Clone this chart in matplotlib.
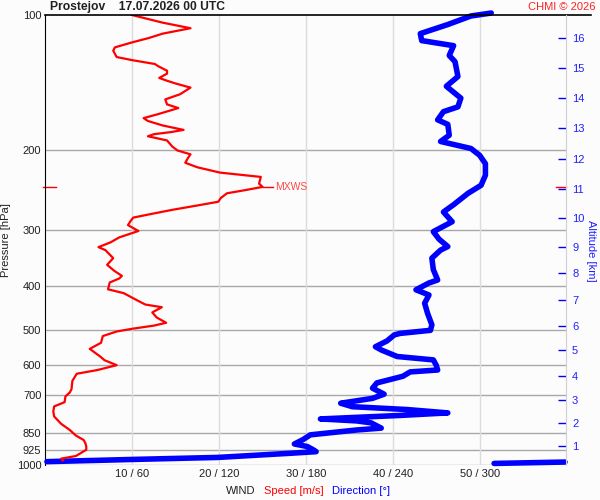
import numpy as np
import matplotlib
matplotlib.use("Agg")
import matplotlib.pyplot as plt

plt.rcParams['font.family'] = ['Liberation Sans', 'DejaVu Sans']

# wind speed profile [hPa], [m/s]
spd_p = [977, 968, 955, 925, 910, 895, 880, 860, 836, 810, 780, 760, 741, 725,
         704, 690, 678, 650, 627, 615, 600, 585, 574, 552, 535, 517, 505, 498,
         490, 483, 470, 458, 446, 440, 430, 415, 407, 400, 393, 385, 380, 370,
         359, 347, 333, 328, 320, 312, 302, 293, 287, 282, 276, 271, 265, 260,
         255, 249, 245, 241, 237, 229, 226, 224, 218, 213, 208, 204, 200, 196,
         190, 186, 184, 182, 180, 176, 172, 169.5, 166, 161, 158, 154, 150, 145,
         142, 140, 138, 135, 133, 130, 128.5, 126, 124, 120, 118, 115, 112.5,
         110, 107, 104, 100]
spd = [2.0, 1.8, 3.5, 4.7, 4.7, 4.6, 4.4, 3.5, 2.8, 1.8, 1.0, 0.9, 1.0, 2.2,
       2.3, 2.8, 3.0, 3.1, 3.6, 6.0, 8.2, 6.8, 6.3, 5.1, 6.4, 6.6, 8.2, 10.0,
       12.5, 13.9, 12.8, 12.3, 13.4, 11.5, 10.5, 9.0, 7.2, 7.3, 7.4, 8.5, 8.8, 7.9,
       7.1, 7.8, 6.9, 6.1, 7.5, 8.5, 10.7, 9.5, 9.8, 10.1, 12.5, 14.6, 17.5, 19.9,
       20.2, 20.9, 23.0, 25.0, 24.6, 24.8, 22.0, 20.1, 17.5, 16.1, 16.4, 16.7, 15.2, 14.6,
       14.0, 11.8, 12.5, 14.5, 15.9, 13.5, 11.8, 11.3, 13.0, 15.3, 14.0, 13.8, 15.5, 16.7,
       15.0, 14.0, 13.1, 14.0, 14.0, 13.0, 12.6, 10.0, 8.2, 7.8, 8.0, 10.0, 11.9,
       13.5, 16.7, 13.5, 9.95]

# wind direction profile [hPa], [deg]
dir_p = [992, 985, 983, 972, 962, 941, 934, 925, 910, 898, 878, 857, 836, 828,
         806, 798, 790, 776, 766, 753, 742, 729, 711, 696, 675, 657, 635, 621,
         615, 600, 584, 574, 555, 546, 530, 514, 510, 502, 488, 460, 437, 419,
         408, 394, 388, 368, 347, 333, 327, 315, 303, 288, 274, 264, 249, 239,
         227, 214, 205, 198, 191, 185, 175, 171, 164, 160, 153, 144, 137, 127,
         123, 117, 114, 110, 105, 100.5, 99]
wdir = [310, 359, 1, 60, 119, 171, 187, 185, 181, 172, 178, 183, 215, 232,
        225, 215, 190, 245, 278, 250, 212, 204, 226, 234, 226, 229, 247, 252,
        271, 270, 268, 243, 232, 228, 236, 241, 245, 266, 267, 264, 262, 265,
        256, 265, 271, 268, 267, 273, 278, 272, 268, 281, 275, 282, 292, 301,
        304, 304, 300, 294, 273, 279, 278, 271, 275, 285, 287, 277, 285, 283,
        279, 282, 260, 259, 278, 294, 308]

p_ticks = [100, 200, 300, 400, 500, 600, 700, 850, 925, 1000]
spd_ticks = [10, 20, 30, 40, 50]
x_labels = ["10 / 60", "20 / 120", "30 / 180", "40 / 240", "50 / 300"]

alt_km = list(range(1, 17))
alt_p = [907, 806, 717, 634, 555, 491, 430, 374, 328, 283, 244, 209, 178, 153, 131, 112.5]

mxws_p = 241
mxws = 25.0

bg = '#fcfcfc'
fig = plt.figure(figsize=(6, 5), dpi=100, facecolor=bg)
ax = fig.add_axes([0.0758, 0.07, 0.8683, 0.90], facecolor=bg)

ax.set_yscale('log')
ax.set_ylim(1000, 100)
ax.set_xlim(0, 60)

for p in p_ticks[1:]:
    ax.axhline(p, color='#a8a8a8', lw=1, zorder=1)
for s in spd_ticks:
    ax.axvline(s, color='#dcdcdc', lw=1, zorder=1)

ax.set_yticks(p_ticks)
ax.set_yticklabels([str(p) for p in p_ticks])
ax.yaxis.set_minor_locator(matplotlib.ticker.NullLocator())
ax.set_xticks(spd_ticks)
ax.set_xticklabels(x_labels)
ax.tick_params(axis='both', length=0, labelsize=8, colors='#202020', pad=3)
ax.set_ylabel("Pressure [hPa]", fontsize=8, color='#202020', labelpad=4)

for side in ['top', 'bottom', 'right']:
    ax.spines[side].set_visible(False)
ax.spines['left'].set_color('black')

# top line runs past the right axis
ax.plot([0, 1.048], [1, 1], transform=ax.transAxes, color='black', lw=1.2,
        clip_on=False, zorder=5)

# direction: split where it wraps past north
dp = np.array(dir_p)
dd = np.array(wdir)
brk = np.where(np.abs(np.diff(dd)) > 180)[0] + 1
for seg_p, seg_d in zip(np.split(dp, brk), np.split(dd, brk)):
    ax.plot(seg_d / 6.0, seg_p, color='#0000ff', lw=4.0, solid_capstyle='round',
            clip_on=False, zorder=3)

ax.plot(spd, spd_p, color='#ff0000', lw=1.6, zorder=4)

# max wind marker
ax.plot([mxws, mxws + 1.2], [mxws_p, mxws_p], color='#ff0000', lw=1, zorder=4)
ax.text(mxws + 1.4, mxws_p, "MXWS", color='#ff4848', fontsize=7.5, va='center')
ax.plot([-0.005, 0.02], [mxws_p, mxws_p], transform=ax.get_yaxis_transform(),
        color='#ff0000', lw=1, clip_on=False)
ax.plot([0.979, 1.0], [mxws_p, mxws_p], transform=ax.get_yaxis_transform(),
        color='#ff0000', lw=1, clip_on=False, zorder=6)

# altitude axis
ax2 = ax.twinx()
ax2.set_yscale('log')
ax2.set_ylim(1000, 100)
ax2.set_yticks(alt_p)
ax2.set_yticklabels([str(a) for a in alt_km])
ax2.yaxis.set_minor_locator(matplotlib.ticker.NullLocator())
ax2.tick_params(axis='y', direction='in', length=6, width=1, colors='#0000ff',
                labelcolor='#2020ff', labelsize=8, pad=4)
for side in ['top', 'bottom', 'left']:
    ax2.spines[side].set_visible(False)
ax2.spines['right'].set_color('#d0d0d0')
ax2.set_ylabel("Altitude [km]", rotation=270, color='#2020ff', fontsize=8, va='center')
ax2.yaxis.set_label_coords(1.047, 0.475)

fig.text(50 / 600, 1 - 7 / 500, "Prostejov    17.07.2026 00 UTC", fontsize=8.7,
         fontweight='bold', va='center', ha='left', color='#202020')
fig.text(596 / 600, 1 - 7 / 500, "CHMI \u00a9 2026", fontsize=8, color='#ff2020',
         va='center', ha='right')

fig.text(226 / 600, 1 - 491 / 500, "WIND", fontsize=8, color='#202020', va='center', ha='left')
fig.text(264 / 600, 1 - 491 / 500, "Speed [m/s]", fontsize=8, color='#ff0000', va='center', ha='left')
fig.text(332 / 600, 1 - 491 / 500, "Direction [\u00b0]", fontsize=8, color='#0000ff', va='center', ha='left')

fig.savefig("out.png", dpi=100, facecolor=bg)
